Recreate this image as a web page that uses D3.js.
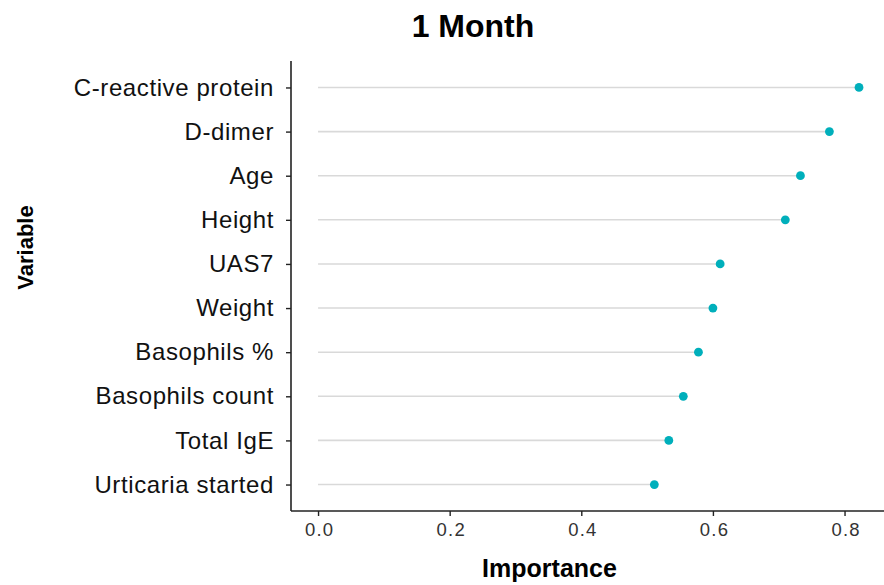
<!DOCTYPE html>
<html>
<head>
<meta charset="utf-8">
<script src="https://cdn.jsdelivr.net/npm/d3@7"></script>
<style>
  html, body { margin: 0; padding: 0; background: #fff; }
  svg { display: block; font-family: "Liberation Sans", Arial, sans-serif; }
</style>
</head>
<body>
<svg id="chart" width="884" height="585"></svg>
<script>
// Variable importance, 1-month model
const variables = [
  "C-reactive protein", "D-dimer", "Age", "Height", "UAS7",
  "Weight", "Basophils %", "Basophils count", "Total IgE", "Urticaria started"
];
const importance = [0.822, 0.777, 0.733, 0.710, 0.611, 0.600, 0.578, 0.555, 0.533, 0.511];
const xTicks = [0.0, 0.2, 0.4, 0.6, 0.8];

const svg = d3.select("#chart");
const panel = { left: 291, right: 886, top: 61, bottom: 511 };

const x = d3.scaleLinear()
  .domain([-0.0411, 0.863])
  .range([panel.left, panel.right]);

const y = d3.scalePoint()
  .domain(variables)
  .range([panel.top, panel.bottom])
  .padding(0.6);

// lollipop stems
svg.append("g").selectAll("line")
  .data(variables)
  .join("line")
  .attr("x1", x(0))
  .attr("x2", (d, i) => x(importance[i]))
  .attr("y1", d => y(d))
  .attr("y2", d => y(d))
  .attr("stroke", "#d9d9d9")
  .attr("stroke-width", 1.6);

// lollipop heads
svg.append("g").selectAll("circle")
  .data(variables)
  .join("circle")
  .attr("cx", (d, i) => x(importance[i]))
  .attr("cy", d => y(d))
  .attr("r", 4.4)
  .attr("fill", "#00afbb");

// y axis
const yAxis = svg.append("g")
  .attr("transform", `translate(${panel.left},0)`)
  .call(d3.axisLeft(y).tickSize(5).tickPadding(12));
yAxis.select(".domain").attr("d", `M-0,${panel.top}V${panel.bottom}`).attr("stroke", "#222").attr("stroke-width", 1.6);
yAxis.selectAll(".tick line").attr("stroke", "#222").attr("stroke-width", 1.4);
yAxis.selectAll(".tick text")
  .attr("fill", "#111")
  .style("font-size", "24px")
  .style("letter-spacing", "0.6px")
  .attr("font-family", "Liberation Sans, Arial, sans-serif");

// x axis
const xAxis = svg.append("g")
  .attr("transform", `translate(0,${panel.bottom})`)
  .call(d3.axisBottom(x).tickValues(xTicks).tickFormat(d3.format(".1f")).tickSize(5).tickPadding(7));
xAxis.select(".domain").attr("d", `M${panel.left},0H${panel.right}`).attr("stroke", "#222").attr("stroke-width", 1.6);
xAxis.selectAll(".tick line").attr("stroke", "#222").attr("stroke-width", 1.4);
xAxis.selectAll(".tick text")
  .attr("fill", "#333")
  .attr("dx", "0.06em")
  .style("font-size", "18.5px")
  .style("letter-spacing", "1.2px")
  .attr("font-family", "Liberation Sans, Arial, sans-serif");

// title and axis titles
svg.append("text")
  .attr("x", 473).attr("y", 37)
  .attr("text-anchor", "middle")
  .style("font-size", "32px").style("font-weight", "bold")
  .text("1 Month");

svg.append("text")
  .attr("x", 549.5).attr("y", 577)
  .attr("text-anchor", "middle")
  .style("font-size", "25px").style("font-weight", "bold")
  .text("Importance");

svg.append("text")
  .attr("transform", "translate(33,247.5) rotate(-90)")
  .attr("text-anchor", "middle")
  .style("font-size", "22px").style("font-weight", "bold")
  .text("Variable");
</script>
</body>
</html>
